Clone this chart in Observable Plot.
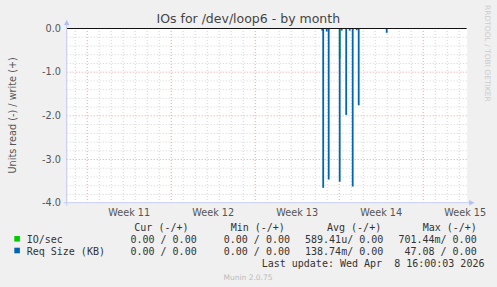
<!DOCTYPE html>
<html><head><meta charset="utf-8">
<script src="https://cdn.jsdelivr.net/npm/d3@7"></script>
<script src="https://cdn.jsdelivr.net/npm/@observablehq/plot@0.6"></script>
<style>html,body{margin:0;padding:0;background:#f0f0f0;} svg{display:block}</style>
</head><body><div id="chart"></div>
<script>
// ---- data ----
const title = "IOs for /dev/loop6 - by month";
const yLabel = "Units read (-) / write (+)";
const rangeStart = "2026-03-07T08:00Z";
const rangeEnd = "2026-04-09T16:00Z";
const yTicks = [0, -1, -2, -3, -4];
const yTickLabels = ["0.0", "-1.0", "-2.0", "-3.0", "-4.0"];
const weekStarts = ["2026-03-09", "2026-03-16", "2026-03-23", "2026-03-30", "2026-04-06"];
const weekLabels = ["Week 11", "Week 12", "Week 13", "Week 14", "Week 15"];
const spikeTimes = ["2026-03-28T14:00Z","2026-03-28T16:00Z","2026-03-28T23:00Z","2026-03-29T03:00Z",
  "2026-03-30T01:00Z","2026-03-30T05:00Z","2026-03-30T14:00Z","2026-03-30T21:00Z",
  "2026-03-31T03:00Z","2026-03-31T11:00Z","2026-03-31T15:00Z","2026-04-02T23:00Z"];
const reqSizeRead = [-0.06, -3.66, -0.08, -3.47, -3.52, -0.06, -1.99, -0.06, -3.63, -0.05, -1.77, -0.11];
const ioSecRead   = [-0.01, -0.05, -0.01, -0.04, -0.70, -0.01, -0.03, -0.01, -0.05, -0.01, -0.03, -0.02];
const seriesNames = ["IO/sec", "Req Size (KB)"];
const seriesColors = ["#00cc00", "#0066b3"];
const colHeaders = ["Cur (-/+)", "Min (-/+)", "Avg (-/+)", "Max (-/+)"];
const curVals = ["0.00 / 0.00", "0.00 / 0.00"];
const minVals = ["0.00 / 0.00", "0.00 / 0.00"];
const avgVals = ["589.41u/ 0.00", "138.74m/ 0.00"];
const maxVals = ["701.44m/ 0.00", "47.08 / 0.00"];
const lastUpdate = "Last update: Wed Apr  8 16:00:03 2026";
const footer = "Munin 2.0.75";
const watermark = "RRDTOOL / TOBI OETIKER";

// ---- derived ----
const t0 = new Date(rangeStart), t1 = new Date(rangeEnd);
const weeks = weekStarts.map(d => new Date(d + "T00:00Z"));
const days = d3.utcDay.range(t0, t1).filter(d => d.getUTCDay() !== 1);
const minorY = d3.range(1, 20).map(i => -i * 0.2).filter(v => Math.abs(v - Math.round(v)) > 1e-6);
const spikes = spikeTimes.map((t, i) => ({t: new Date(t), req: reqSizeRead[i], io: ioSecRead[i]}));

const W = 497, H = 287;
const chart = Plot.plot({
  width: W, height: H,
  marginLeft: 66.7, marginRight: 30.3, marginTop: 28, marginBottom: 84.3,
  style: {background: "#f0f0f0", fontFamily: "DejaVu Sans", overflow: "visible"},
  x: {type: "utc", domain: [t0, t1], axis: null},
  y: {domain: [-4, 0], axis: null},
  marks: [
    Plot.frame({fill: "white", stroke: "none"}),
    Plot.ruleX(days, {stroke: "#d4d4d4", strokeDasharray: "1,2"}),
    Plot.ruleY(minorY, {stroke: "#d4d4d4", strokeDasharray: "1,2"}),
    Plot.ruleX(weeks, {stroke: "#f0a0a0", strokeDasharray: "1,2"}),
    Plot.ruleY([-1, -2, -3], {stroke: "#f0a0a0", strokeDasharray: "1,2"}),
    Plot.ruleX(spikes, {x: "t", y1: 0, y2: "io", stroke: seriesColors[0], strokeWidth: 1.6}),
    Plot.ruleX(spikes, {x: "t", y1: 0, y2: "req", stroke: seriesColors[1], strokeWidth: 1.8}),
    Plot.ruleY([0], {stroke: "#111", strokeWidth: 1}),
    Plot.text(yTicks, {x: () => t0, y: d => d, text: (d, i) => yTickLabels[i], textAnchor: "end", dx: -6.2, fontSize: 9.7, fill: "#555"}),
    Plot.text(weeks, {x: d => new Date(+d + 3.5 * 864e5), y: () => -4, text: (d, i) => weekLabels[i], dy: 9.6, fontSize: 9.7, fill: "#555"})
  ]
});
document.getElementById("chart").append(chart);

// ---- decorations outside the plot area ----
const svg = d3.select(chart);
const xs = chart.scale("x"), ys = chart.scale("y");
const xL = xs.apply(t0), xR = xs.apply(t1), yB = ys.apply(-4), yT = ys.apply(0);
const axisCol = "#c6ccf4";
svg.append("line").attr("x1", xL - 3).attr("x2", xR + 3).attr("y1", yB).attr("y2", yB).attr("stroke", axisCol);
svg.append("line").attr("x1", xL).attr("x2", xL).attr("y1", yB + 3).attr("y2", yT - 4).attr("stroke", axisCol);
svg.append("path").attr("d", `M${xR + 2.5},${yB - 2.7}L${xR + 7.7},${yB}L${xR + 2.5},${yB + 2.7}Z`).attr("fill", "#b4bff2");
svg.append("path").attr("d", `M${xL - 2.7},${yT - 3}L${xL},${yT - 8.3}L${xL + 2.7},${yT - 3}Z`).attr("fill", "#b4bff2");

const txt = (x, y, s, opts = {}) => svg.append("text").attr("x", x).attr("y", y)
  .attr("text-anchor", opts.anchor || "start")
  .attr("font-family", opts.font || "DejaVu Sans Mono").attr("font-size", opts.size || 10)
  .attr("fill", opts.fill || "#333").attr("xml:space", "preserve").style("white-space", "pre")
  .attr("transform", opts.transform || null).text(s);

txt(248.3, 22.5, title, {anchor: "middle", font: "DejaVu Sans", size: 12.5, fill: "#444"});
txt(0, 0, yLabel, {anchor: "middle", font: "DejaVu Sans", size: 9.7, fill: "#555",
  transform: `translate(15.5,${(yB + yT) / 2}) rotate(-90)`});
txt(0, 0, watermark, {font: "DejaVu Sans", size: 7.5, fill: "#cccccc", transform: "translate(484.5,5) rotate(90)"});

const hdrX = [134.3, 230.7, 327, 422.7];
colHeaders.forEach((h, i) => txt(hdrX[i], 231.3, h));
const colEnds = [196.7, 290, 383.3, 476.7];
const rowY = [242.8, 254.5];
seriesNames.forEach((name, r) => {
  svg.append("rect").attr("x", 14.3).attr("y", rowY[r] - 6.8).attr("width", 5.6).attr("height", 5.6).attr("fill", seriesColors[r]);
  txt(26.7, rowY[r], name);
  [curVals, minVals, avgVals, maxVals].forEach((arr, c) => txt(colEnds[c], rowY[r], arr[r], {anchor: "end"}));
});
txt(261.7, 267.3, lastUpdate);
txt(248, 279.5, footer, {anchor: "middle", font: "DejaVu Sans", size: 7.5, fill: "#bbbbbb"});
</script>
</body></html>
